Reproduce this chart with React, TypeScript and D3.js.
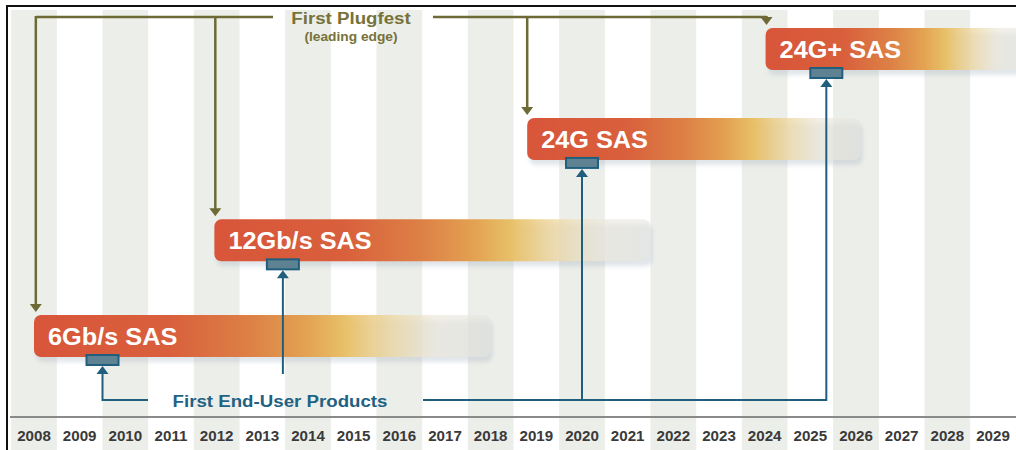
import { useRef, useEffect } from 'react';
import * as d3 from 'd3';

// Year ticks along the bottom
const years = [
  2008, 2009, 2010, 2011, 2012, 2013, 2014, 2015, 2016, 2017, 2018,
  2019, 2020, 2021, 2022, 2023, 2024, 2025, 2026, 2027, 2028, 2029,
];

// SAS generations
const generations = ['6Gb/s SAS', '12Gb/s SAS', '24G SAS', '24G+ SAS'];
const barStart = [2008.0, 2011.95, 2018.8, 2024.02];
const barEnd = [2018.0, 2021.5, 2026.1, 2029.8];
const barLevel = [0, 1, 2.06, 3];
const plugfestYear = [2008.04, 2011.97, 2018.8, 2024.04];
const endUserYear = [2009.5, 2013.45, 2020.0, 2025.35];

const W = 1016;
const H = 450;

const OLIVE = '#6e6a36';
const TEAL = '#1f5f7d';
const FONT = '"Liberation Sans", Arial, Helvetica, sans-serif';

export default function App() {
  const svgRef = useRef<SVGSVGElement>(null);

  useEffect(() => {
    if (!svgRef.current) return;
    const svg = d3.select(svgRef.current);
    svg.selectAll('*').remove();

    const x = d3.scaleLinear().domain([2008, 2029]).range([34, 993]);
    const colW = x(2009) - x(2008);
    const y = d3.scaleLinear().domain([0, 3]).range([315, 28]);
    const barH = 42;
    const axisY = 417;
    const lineY = 400;
    const plugY = 17;

    const defs = svg.append('defs');
    const grad = defs
      .append('linearGradient')
      .attr('id', 'barGrad')
      .attr('x1', '0%')
      .attr('x2', '100%');
    [
      [0, '#d8553a', 1],
      [0.3, '#d9603c', 1],
      [0.48, '#dd8246', 1],
      [0.6, '#e3a352', 1],
      [0.68, '#e8be62', 0.95],
      [0.78, '#eed8a2', 0.8],
      [0.88, '#ece8dc', 0.7],
      [1, '#e6e6e2', 0.6],
    ].forEach(([o, c, op]) =>
      grad
        .append('stop')
        .attr('offset', o as number)
        .attr('stop-color', c as string)
        .attr('stop-opacity', op as number)
    );
    const blur = defs.append('filter').attr('id', 'blur').attr('x', '-5%').attr('y', '-30%').attr('width', '110%').attr('height', '160%');
    blur.append('feGaussianBlur').attr('stdDeviation', 2);

    // background stripes
    svg
      .append('rect')
      .attr('width', W)
      .attr('height', H)
      .attr('fill', '#ffffff');
    svg
      .append('g')
      .selectAll('rect')
      .data(years.filter((_, i) => i % 2 === 0))
      .join('rect')
      .attr('x', (d) => x(d) - colW / 2)
      .attr('y', 10)
      .attr('width', colW)
      .attr('height', H - 10)
      .attr('fill', '#eceee9');

    // frame
    svg
      .append('path')
      .attr('d', `M7,${H} L7,6 L${W},6`)
      .attr('fill', 'none')
      .attr('stroke', '#111')
      .attr('stroke-width', 2);

    // axis
    svg
      .append('line')
      .attr('x1', 10)
      .attr('x2', W)
      .attr('y1', axisY)
      .attr('y2', axisY)
      .attr('stroke', '#8a8a8a')
      .attr('stroke-width', 2);
    svg
      .append('g')
      .selectAll('text')
      .data(years)
      .join('text')
      .attr('transform', (d) => `translate(${x(d)},441) scale(1.08,1)`)
      .attr('text-anchor', 'middle')
      .attr('font-family', FONT)
      .attr('font-weight', 'bold')
      .attr('font-size', 14)
      .attr('fill', '#3a3a3a')
      .text((d) => String(d));

    // bars
    const bars = svg.append('g');
    generations.forEach((name, i) => {
      const x0 = x(barStart[i]);
      const x1 = x(barEnd[i]);
      const top = y(barLevel[i]);
      bars
        .append('rect')
        .attr('x', x0 + 2)
        .attr('y', top + 5)
        .attr('width', x1 - x0)
        .attr('height', barH)
        .attr('rx', 7)
        .attr('fill', '#a9b6c2')
        .attr('opacity', 0.35)
        .attr('filter', 'url(#blur)');
      bars
        .append('rect')
        .attr('x', x0)
        .attr('y', top)
        .attr('width', x1 - x0)
        .attr('height', barH)
        .attr('rx', 7)
        .attr('fill', 'url(#barGrad)');
      bars
        .append('text')
        .attr('transform', `translate(${x0 + 14},${top + 30}) scale(1.1,1)`)
        .attr('font-family', FONT)
        .attr('font-weight', 'bold')
        .attr('font-size', 23)
        .attr('fill', '#ffffff')
        .text(name);
    });

    // end-user markers
    generations.forEach((_, i) => {
      const cx = x(endUserYear[i]);
      const bottom = y(barLevel[i]) + barH;
      bars
        .append('rect')
        .attr('x', cx - 16)
        .attr('y', bottom - 2)
        .attr('width', 32)
        .attr('height', 10)
        .attr('fill', '#5f8293')
        .attr('stroke', TEAL)
        .attr('stroke-width', 2);
    });

    // First Plugfest connectors
    const plug = svg.append('g');
    const px = plugfestYear.map((d) => x(d));
    plug
      .append('line')
      .attr('x1', px[0])
      .attr('x2', 273)
      .attr('y1', plugY)
      .attr('y2', plugY)
      .attr('stroke', OLIVE)
      .attr('stroke-width', 2.5);
    plug
      .append('line')
      .attr('x1', 433)
      .attr('x2', px[3])
      .attr('y1', plugY)
      .attr('y2', plugY)
      .attr('stroke', OLIVE)
      .attr('stroke-width', 2.5);
    px.forEach((xx, i) => {
      const tip = y(barLevel[i]) - 3;
      plug
        .append('line')
        .attr('x1', xx)
        .attr('x2', xx)
        .attr('y1', plugY - 1)
        .attr('y2', tip - 6)
        .attr('stroke', OLIVE)
        .attr('stroke-width', 2.5);
      plug
        .append('path')
        .attr('d', `M${xx - 6},${tip - 8} L${xx + 6},${tip - 8} L${xx},${tip} Z`)
        .attr('fill', OLIVE);
    });
    plug
      .append('text')
      .attr('transform', `translate(351,24) scale(1.1,1)`)
      .attr('text-anchor', 'middle')
      .attr('font-family', FONT)
      .attr('font-weight', 'bold')
      .attr('font-size', 17)
      .attr('fill', '#77723a')
      .text('First Plugfest');
    plug
      .append('text')
      .attr('transform', `translate(351,41) scale(1.1,1)`)
      .attr('text-anchor', 'middle')
      .attr('font-family', FONT)
      .attr('font-weight', 'bold')
      .attr('font-size', 12.5)
      .attr('fill', '#77723a')
      .text('(leading edge)');

    // First End-User Products connectors
    const eu = svg.append('g');
    const ex = endUserYear.map((d) => x(d));
    eu.append('path')
      .attr('d', `M148,${lineY} L${ex[0]},${lineY} L${ex[0]},${y(barLevel[0]) + barH + 16}`)
      .attr('fill', 'none')
      .attr('stroke', TEAL)
      .attr('stroke-width', 2);
    eu.append('line')
      .attr('x1', ex[1])
      .attr('x2', ex[1])
      .attr('y1', y(barLevel[1]) + barH + 14)
      .attr('y2', 374)
      .attr('stroke', TEAL)
      .attr('stroke-width', 2);
    eu.append('path')
      .attr('d', `M423,${lineY} L${ex[3]},${lineY} L${ex[3]},${y(barLevel[3]) + barH + 14}`)
      .attr('fill', 'none')
      .attr('stroke', TEAL)
      .attr('stroke-width', 2);
    eu.append('line')
      .attr('x1', ex[2])
      .attr('x2', ex[2])
      .attr('y1', y(barLevel[2]) + barH + 14)
      .attr('y2', lineY)
      .attr('stroke', TEAL)
      .attr('stroke-width', 2);
    ex.forEach((xx, i) => {
      const tip = y(barLevel[i]) + barH + 9;
      eu.append('path')
        .attr('d', `M${xx - 6},${tip + 8} L${xx + 6},${tip + 8} L${xx},${tip} Z`)
        .attr('fill', TEAL);
    });
    eu.append('text')
      .attr('transform', `translate(280,407) scale(1.1,1)`)
      .attr('text-anchor', 'middle')
      .attr('font-family', FONT)
      .attr('font-weight', 'bold')
      .attr('font-size', 17)
      .attr('fill', '#1f6283')
      .text('First End-User Products');
  }, []);

  return (
    <svg
      ref={svgRef}
      width={W}
      height={H}
      style={{ position: 'absolute', left: 0, top: 0 }}
    />
  );
}
